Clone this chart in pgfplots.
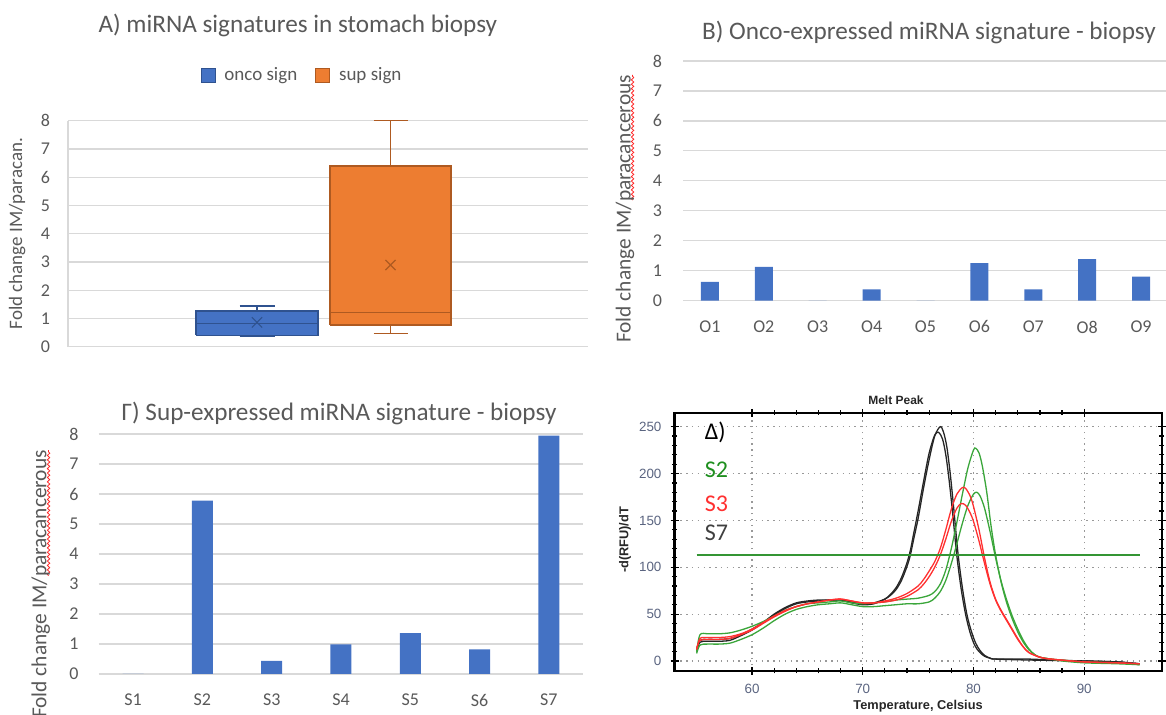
\documentclass[border=0pt]{standalone}
\usepackage{fontspec}
\setmainfont{Carlito}
\newfontfamily\arial{Liberation Sans}
\usepackage{pgfplots}
\pgfplotsset{compat=1.18}
\usetikzlibrary{decorations.pathmorphing}

\definecolor{barblue}{HTML}{4472C4}
\definecolor{oncoline}{HTML}{2F528F}
\definecolor{supfill}{HTML}{ED7D31}
\definecolor{supline}{HTML}{AE5A21}
\definecolor{txtgray}{HTML}{595959}
\definecolor{gridgray}{HTML}{D9D9D9}
\definecolor{tickblue}{HTML}{5A6480}
\definecolor{meltgreen}{HTML}{3AA63A}
\definecolor{meltred}{HTML}{FF3030}
\definecolor{meltblack}{HTML}{262626}
\definecolor{lblgreen}{HTML}{1F8F1F}

\newcommand\ttl{\fontsize{12.6}{14}\selectfont}
\newcommand\tk{\fontsize{9}{10}\selectfont}

\tikzset{squiggle/.style={draw=red!85, line width=0.4pt, decorate,
  decoration={snake, amplitude=0.6pt, segment length=2.2pt}}}

\pgfplotsset{
  /pgf/number format/assume math mode=true,
  excel/.style={
    anchor=south west, scale only axis,
    ymin=0, ymax=8, ytick={0,...,8},
    ymajorgrids, grid style={draw=gridgray, line width=0.6pt},
    axis line style={draw=none}, major tick length=0pt,
    tick label style={font=\tk, text=txtgray},
    title style={font=\ttl, text=txtgray, anchor=center},
    ylabel style={text=txtgray, anchor=center},
  },
}

\begin{document}
\begin{tikzpicture}

% A) box plots (drawn from the five-number summaries)
\begin{axis}[excel,
    at={(34pt,184.15pt)}, width=260pt, height=113pt,
    xmin=68, xmax=588, xtick=\empty, clip=false,
    yticklabel style={xshift=-5.5pt},
    title={A) miRNA signatures in stomach biopsy},
    title style={at={(axis description cs:0.442,1.37)}},
    ylabel={Fold change IM/paracan.},
    ylabel style={at={(axis description cs:-0.098,0.5)}, font=\fontsize{9.5}{11}\selectfont},
    legend style={at={(axis description cs:0.452,1.200)}, anchor=center,
                  draw=none, fill=none, legend columns=2,
                  font=\fontsize{9.5}{11}\selectfont, text=txtgray,
                  /tikz/every even column/.append style={column sep=7pt}},
    legend image code/.code={\draw[#1] (0pt,-3.5pt) rectangle (7pt,3.5pt); \path (9.5pt,0pt);},
  ]
  \draw[gridgray, line width=0.6pt] (axis cs:68,0) -- (axis cs:68,8);
  % onco sign
  \addplot[fill=barblue, draw=oncoline, line width=0.6pt, forget plot] coordinates {
    (196,0.41) (318,0.41) (318,1.26) (196,1.26) (196,0.41)};
  \addplot[oncoline, line width=0.6pt, forget plot] coordinates {(196,0.83) (318,0.83)};
  \addplot[oncoline, line width=0.6pt, forget plot] coordinates {(257,1.26) (257,1.44)};
  \addplot[oncoline, line width=0.6pt, forget plot] coordinates {(239.5,1.44) (274.5,1.44)};
  \addplot[oncoline, line width=0.6pt, forget plot] coordinates {(257,0.41) (257,0.36)};
  \addplot[oncoline, line width=0.6pt, forget plot] coordinates {(239.5,0.36) (274.5,0.36)};
  \addplot[only marks, mark=x, mark size=3.6pt, draw=oncoline, line width=0.6pt, forget plot]
    coordinates {(257,0.86)};
  % sup sign
  \addplot[fill=supfill, draw=supline, line width=0.6pt, forget plot] coordinates {
    (330,0.77) (451,0.77) (451,6.40) (330,6.40) (330,0.77)};
  \addplot[supline, line width=0.6pt, forget plot] coordinates {(330,1.22) (451,1.22)};
  \addplot[supline, line width=0.6pt, forget plot] coordinates {(390.5,6.40) (390.5,8.0)};
  \addplot[supline, line width=0.6pt, forget plot] coordinates {(373.5,8.0) (407.5,8.0)};
  \addplot[supline, line width=0.6pt, forget plot] coordinates {(390.5,0.77) (390.5,0.47)};
  \addplot[supline, line width=0.6pt, forget plot] coordinates {(373.5,0.47) (407.5,0.47)};
  \addplot[only marks, mark=x, mark size=3.6pt, draw=supline, line width=0.6pt, forget plot]
    coordinates {(390.5,2.89)};
  \addlegendimage{fill=barblue, draw=oncoline}
  \addlegendentry{onco sign}
  \addlegendimage{fill=supfill, draw=supline}
  \addlegendentry{sup sign}
\end{axis}

% B) onco-expressed
\begin{axis}[excel,
    at={(341.5pt,207.15pt)}, width=242.5pt, height=119.85pt,
    xmin=0.5, xmax=9.5, xtick={1,...,9},
    xticklabels={O1,O2,O3,O4,O5,O6,O7,O8,O9},
    xticklabel style={yshift=-6.5pt},
    yticklabel style={xshift=-7pt},
    ybar, bar width=9pt, clip=false,
    title={B) Onco-expressed miRNA signature - biopsy},
    title style={at={(axis description cs:0.507,1.067)}},
    ylabel={Fold change IM/paracancerous},
    ylabel style={at={(axis description cs:-0.1196,0.3826)}, font=\fontsize{10.7}{12}\selectfont},
  ]
  \addplot[fill=barblue, draw=none] coordinates {
    (1,0.63) (2,1.13) (3,0) (4,0.38) (5,0) (6,1.25) (7,0.38) (8,1.39) (9,0.80)};
  \draw[squiggle] (axis description cs:-0.104,0.42) -- (axis description cs:-0.104,0.942);
\end{axis}

% Gamma) sup-expressed
\begin{axis}[excel,
    at={(49.25pt,20.5pt)}, width=242.5pt, height=120pt,
    xmin=0.5, xmax=7.5, xtick={1,...,7},
    xticklabels={S1,S2,S3,S4,S5,S6,S7},
    xticklabel style={yshift=-6.5pt},
    yticklabel style={xshift=-6.5pt},
    ybar, bar width=10.5pt, clip=false,
    title={Γ) Sup-expressed miRNA signature - biopsy},
    title style={at={(axis description cs:0.496,1.0375)}},
    ylabel={Fold change IM/paracancerous},
    ylabel style={at={(axis description cs:-0.119,0.375)}, font=\fontsize{10.7}{12}\selectfont},
  ]
  \addplot[fill=barblue, draw=none] coordinates {
    (1,0) (2,5.78) (3,0.44) (4,0.99) (5,1.36) (6,0.82) (7,7.95)};
  \draw[squiggle] (axis description cs:-0.103,0.41) -- (axis description cs:-0.103,0.933);
\end{axis}

% Delta) melt peak
\begin{axis}[
    at={(337.25pt,22pt)}, anchor=south west, scale only axis,
    width=243.6pt, height=129pt,
    xmin=53, xmax=97, ymin=-10.7, ymax=264.6,
    xtick={60,70,80,90}, ytick={0,50,...,250},
    minor x tick num=4, minor y tick num=4,
    grid=major, grid style={draw=gray!80, line width=0.6pt, dash pattern=on 0.7pt off 2.2pt},
    axis line style={line width=1.1pt, black},
    tick align=center, major tick length=4pt, minor tick length=2.5pt,
    every tick/.style={black, line width=0.6pt},
    tick label style={font=\arial\fontsize{6.7}{7}\selectfont, text=tickblue},
    yticklabel style={xshift=-1pt},
    xticklabel style={yshift=-1pt},
    title={\textbf{Melt Peak}},
    title style={font=\arial\fontsize{6}{7}\selectfont, text=black!85,
                 at={(axis description cs:0.4546,1.004)}, anchor=center},
    xlabel={\textbf{Temperature, Celsius}},
    xlabel style={font=\arial\fontsize{6.4}{7}\selectfont, text=black!85,
                  at={(axis description cs:0.5,-0.136)}, anchor=center},
    ylabel={\textbf{-d(RFU)/dT}},
    ylabel style={font=\arial\fontsize{6.4}{7}\selectfont, text=black!85,
                  at={(axis description cs:-0.1016,0.508)}, anchor=center},
    every axis plot/.append style={smooth, line width=0.65pt},
  ]
  % S7 (black)
  \addplot[meltblack] coordinates {
    (55,12) (55.3,22) (56,23) (57,23) (58,24) (59,28) (60,34) (61,41) (62,49)
    (63,56) (64,61) (65,63) (66,64) (67,65) (68,65) (69,63) (70,61) (71,62)
    (72,66) (72.5,70) (73,76) (73.5,86) (74,101) (74.3,113) (74.6,130) (75,152)
    (75.5,185) (76,215) (76.5,240) (77,250) (77.3,244) (77.6,228) (77.9,200)
    (78.2,165) (78.6,115) (79,78) (79.4,50) (79.8,32) (80.2,19) (80.6,11)
    (81,6) (81.5,3) (82,2) (85,2) (87,1) (90,0) (93,-1) (95,-3)};
  \addplot[meltblack] coordinates {
    (55,10) (55.3,20) (56,21) (57,21) (58,22) (59,27) (60,33) (61,41) (62,50)
    (63,57) (64,62) (65,64) (66,65) (67,65) (68,65) (69,62) (70,60) (71,61)
    (72,66) (72.5,71) (73,78) (73.5,89) (74,105) (74.3,118) (74.6,136) (75,160)
    (75.5,192) (76,222) (76.5,241) (76.85,244) (77.2,237) (77.5,220) (77.8,193)
    (78.1,160) (78.5,112) (78.9,76) (79.3,49) (79.7,30) (80.1,17) (80.5,10)
    (81,5) (81.5,3) (82,2) (85,1) (90,0) (93,-1) (95,-3)};
  % S2 (green)
  \addplot[meltgreen] coordinates {
    (55,10) (55.3,28) (56,29) (57,29) (58,30) (59,33) (60,37) (61,42) (62,48)
    (63,54) (64,58) (65,61) (66,62) (67,63) (68,64) (69,62) (70,61) (71,62)
    (72,63) (73,65) (74,66) (75,67) (76,70) (76.5,74) (77,82) (77.5,97)
    (78,120) (78.5,148) (79,178) (79.5,206) (80,225) (80.2,227) (80.5,222)
    (80.8,208) (81.2,180) (81.6,143) (82,113) (82.5,84) (83,62) (83.5,45)
    (84,31) (84.5,20) (85,12) (85.5,7) (86,4) (87,2) (88,1) (90,-1) (93,-2) (95,-4)};
  \addplot[meltgreen] coordinates {
    (55,8) (55.3,17) (56,18) (57,18) (58,19) (59,23) (60,28) (61,35) (62,43)
    (63,50) (64,55) (65,58) (66,60) (67,61) (68,62) (69,60) (70,58) (71,58)
    (72,59) (73,60) (74,61) (75,61) (76,63) (76.5,67) (77,74) (77.5,86)
    (78,104) (78.5,125) (79,147) (79.5,166) (80,178) (80.3,180) (80.6,176)
    (81,163) (81.5,138) (82,110) (82.5,85) (83,65) (83.5,48) (84,34) (84.5,22)
    (85,13) (85.5,7) (86,4) (87,2) (88,0) (90,-2) (93,-3) (95,-4)};
  % S3 (red)
  \addplot[meltred] coordinates {
    (55,12) (55.3,24) (56,25) (57,25) (58,26) (59,29) (60,34) (61,41) (62,48)
    (63,54) (64,58) (65,61) (66,63) (67,65) (68,66) (69,64) (70,62) (71,62)
    (72,64) (73,67) (74,72) (75,80) (75.5,87) (76,96) (76.5,106) (77,120)
    (77.5,140) (78,162) (78.5,178) (79,185) (79.3,184) (79.7,176) (80,165)
    (80.5,140) (81,110) (81.5,84) (82,66) (82.5,54) (83,44) (83.5,34) (84,24)
    (84.5,15) (85,9) (86,4) (87,2) (90,-1) (93,-2) (95,-3)};
  \addplot[meltred] coordinates {
    (55,13) (55.3,22) (56,23) (57,23) (58,24) (59,28) (60,33) (61,40) (62,47)
    (63,53) (64,58) (65,61) (66,63) (67,65) (68,66) (69,64) (70,62) (71,62)
    (72,63) (73,65) (74,69) (75,76) (75.5,82) (76,90) (76.5,100) (77,113)
    (77.5,130) (78,149) (78.5,163) (78.9,168) (79.3,166) (79.7,158) (80,149)
    (80.5,128) (81,104) (81.5,82) (82,65) (82.5,53) (83,43) (83.5,33) (84,23)
    (84.5,15) (85,9) (86,4) (87,2) (90,-1) (93,-2) (95,-3)};
  % threshold
  \addplot[meltgreen!90!black, line width=1.1pt, sharp plot] coordinates {(55,113) (95,113)};
  \node[anchor=west, font=\fontsize{12}{13}\selectfont, text=black] at (axis cs:55.1,244) {Δ)};
  \node[anchor=west, font=\fontsize{12}{13}\selectfont, text=lblgreen] at (axis cs:55.1,203.6) {S2};
  \node[anchor=west, font=\fontsize{12}{13}\selectfont, text=meltred] at (axis cs:55.1,168) {S3};
  \node[anchor=west, font=\fontsize{12}{13}\selectfont, text=black!75] at (axis cs:55.1,136.5) {S7};
\end{axis}

\pgfresetboundingbox
\path[use as bounding box] (0pt,0pt) rectangle (583pt,357.5pt);
\end{tikzpicture}
\end{document}
